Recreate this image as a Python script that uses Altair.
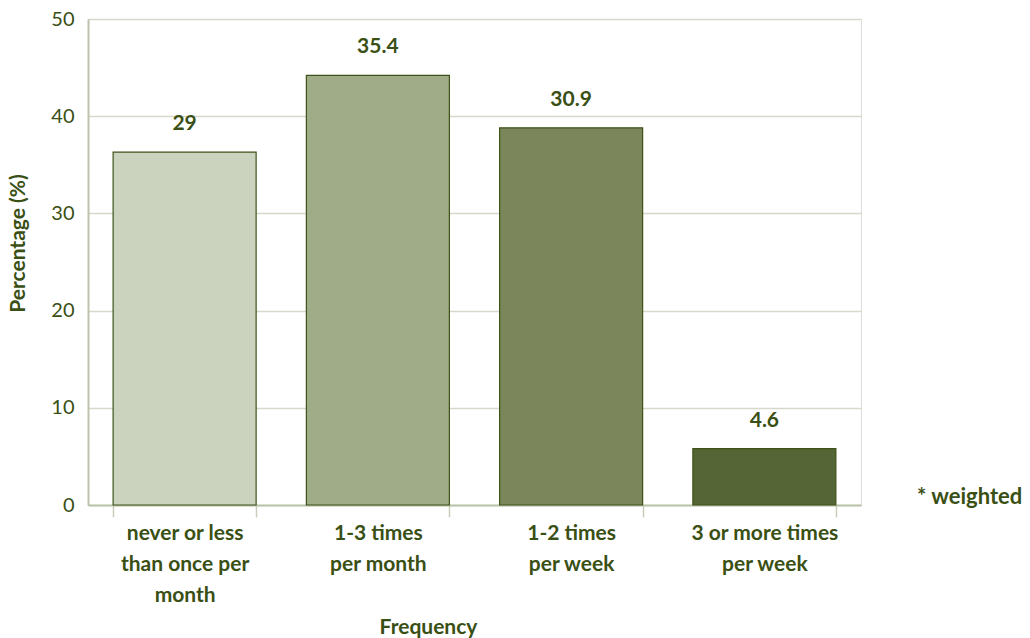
import altair as alt
import pandas as pd

categories = ["never or less|than once per|month", "1-3 times|per month", "1-2 times|per week", "3 or more times|per week"]
bar_heights = [36.3, 44.2, 38.8, 5.8]
value_labels = ["29", "35.4", "30.9", "4.6"]
bar_colors = ["#cbd3be", "#a0ac87", "#7b875a", "#566535"]

df = pd.DataFrame({"Frequency": categories, "Percentage": bar_heights, "label": value_labels})

TEXT = "#3a4f14"
FONT = "Lato"

base = alt.Chart(df).encode(
    x=alt.X("Frequency:N", sort=None,
            scale=alt.Scale(paddingInner=0.26, paddingOuter=0.13),
            axis=alt.Axis(title="Frequency", labelAngle=0, labelExpr="split(datum.label, '|')",
                          labelFont=FONT, labelFontSize=21, labelFontWeight="bold", labelColor=TEXT,
                          labelLineHeight=31, labelPadding=5, labelBaseline="top",
                          tickBand="extent", tickSize=12, tickColor="#c9cebb", tickWidth=1.5,
                          domainColor="#bcc3ad", domainWidth=2,
                          titleFont=FONT, titleFontSize=21, titleFontWeight="bold", titleColor=TEXT,
                          titleX=340, titleY=122, titleBaseline="middle", grid=False)),
)

bars = base.mark_bar(stroke="#3d5218", strokeWidth=1.2).encode(
    y=alt.Y("Percentage:Q", scale=alt.Scale(domain=[0, 50]),
            axis=alt.Axis(title="Percentage (%)", values=[0, 10, 20, 30, 40, 50],
                          labelFont=FONT, labelFontSize=20, labelColor=TEXT, labelPadding=14,
                          ticks=False, domainColor="#bcc3ad", domainWidth=2,
                          gridColor="#d6d9ca", gridWidth=1.5,
                          titleFont=FONT, titleFontSize=21, titleFontWeight="bold", titleColor=TEXT,
                          titleX=-70, titleY=224, titleAlign="center", titleBaseline="middle")),
    color=alt.Color("Frequency:N", sort=None, scale=alt.Scale(domain=categories, range=bar_colors), legend=None),
)

texts = base.mark_text(font=FONT, fontSize=21, fontWeight="bold", color=TEXT, baseline="bottom", dy=-18).encode(
    y=alt.Y("Percentage:Q"),
    text="label:N",
)

note = alt.Chart(pd.DataFrame({"t": ["* weighted"]})).mark_text(
    font=FONT, fontSize=22, fontWeight="bold", color=TEXT, align="left", baseline="middle"
).encode(x=alt.value(829), y=alt.value(478), text="t:N")

chart = alt.layer(bars, texts, note).properties(
    width=773, height=486,
    padding={"left": 88, "top": 19, "right": 169, "bottom": 133},
    autosize=alt.AutoSizeParams(type="none"),
).configure_view(stroke=None).configure(background="white")

chart.save("out.html", embed_options={"renderer": "svg", "actions": False})
